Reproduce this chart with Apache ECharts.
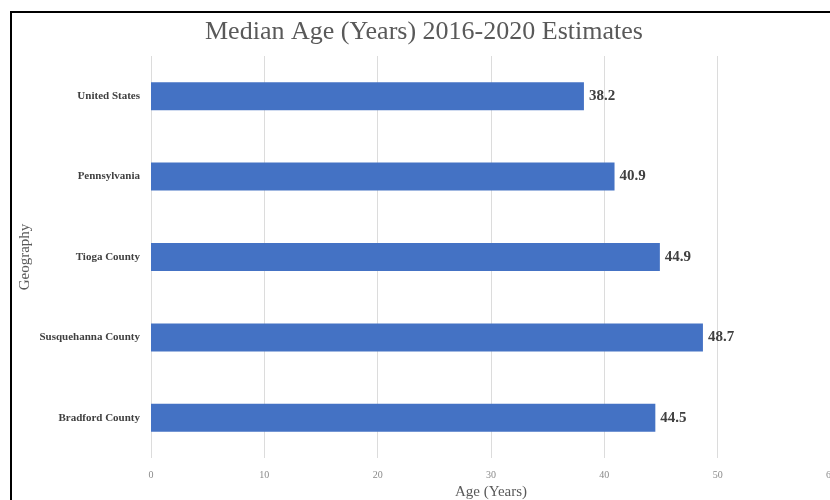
<!DOCTYPE html>
<html>
<head>
<meta charset="utf-8">
<script src="https://cdn.jsdelivr.net/npm/echarts@6/dist/echarts.min.js"></script>
<style>
html,body{margin:0;padding:0;background:#fff;overflow:hidden;width:830px;height:500px;}
#c{position:absolute;left:0;top:0;width:900px;height:500px;}
</style>
</head>
<body>
<div id="c"></div>
<script>
const categories = ["Bradford County", "Susquehanna County", "Tioga County", "Pennsylvania", "United States"];
const values = [44.5, 48.7, 44.9, 40.9, 38.2];
const xTicks = [0, 10, 20, 30, 40, 50, 60];

const serif = '"Liberation Serif", "DejaVu Serif", serif';
const chart = echarts.init(document.getElementById('c'), null, {renderer: 'canvas'});
chart.setOption({
  animation: false,
  backgroundColor: '#fff',
  title: {
    text: 'Median Age (Years) 2016-2020 Estimates',
    left: 200, top: 14,
    textStyle: {fontFamily: serif, fontSize: 26, fontWeight: 'normal', color: '#595959'}
  },
  graphic: [{
    type: 'rect', silent: true, x: 0, y: 0,
    shape: {x: 11, y: 12, width: 900, height: 600},
    style: {fill: 'none', stroke: '#000', lineWidth: 2}
  }],
  grid: {left: 151, top: 56, width: 680, height: 402, containLabel: false, outerBoundsMode: 'none'},
  xAxis: {
    type: 'value', min: xTicks[0], max: xTicks[xTicks.length - 1], interval: 10,
    name: 'Age (Years)', nameLocation: 'middle', nameGap: 27,
    nameTextStyle: {fontFamily: serif, fontSize: 15, color: '#595959'},
    axisLine: {show: false}, axisTick: {show: false},
    axisLabel: {fontFamily: serif, fontSize: 10, color: '#8a8a8a', margin: 12},
    splitLine: {lineStyle: {color: '#dcdcdc', width: 1}}
  },
  yAxis: {
    type: 'category', data: categories,
    name: 'Geography', nameLocation: 'middle', nameGap: 118, nameRotate: 90,
    nameMoveOverlap: false,
    nameTextStyle: {fontFamily: serif, fontSize: 15, color: '#595959'},
    axisLine: {show: false}, axisTick: {show: false},
    axisLabel: {fontFamily: serif, fontSize: 11, fontWeight: 'bold', color: '#404040', margin: 11}
  },
  series: [{
    type: 'bar', data: values, barWidth: 28,
    itemStyle: {color: '#4472C4'},
    label: {show: true, position: 'right', distance: 5,
      fontFamily: serif, fontSize: 15, fontWeight: 'bold', color: '#404040'}
  }]
});
</script>
</body>
</html>
